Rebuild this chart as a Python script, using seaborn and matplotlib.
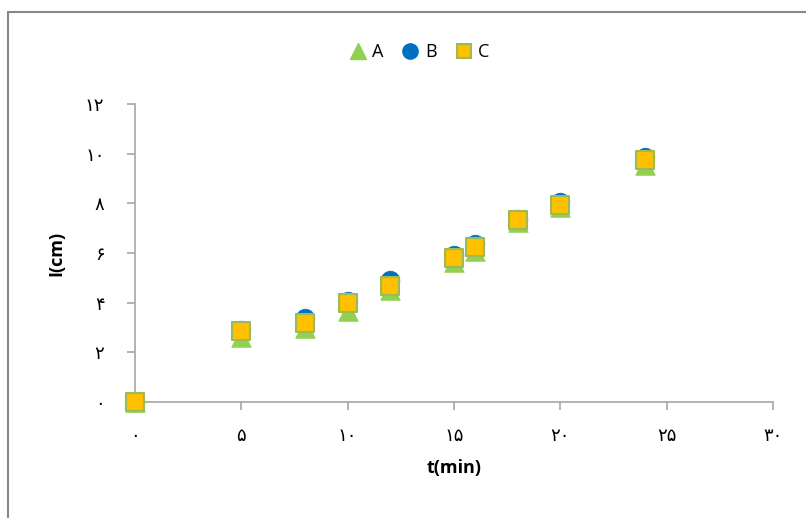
import matplotlib
matplotlib.use("Agg")
import matplotlib.pyplot as plt
import seaborn as sns
import pandas as pd
from matplotlib.lines import Line2D

t = [0, 5, 8, 10, 12, 15, 16, 18, 20, 24]
A = [0, 2.6, 3.0, 3.67, 4.5, 5.65, 6.1, 7.25, 7.85, 9.55]
B = [0, 2.9, 3.4, 4.07, 4.9, 5.9, 6.35, 7.35, 8.05, 9.88]
C = [0, 2.86, 3.19, 3.98, 4.68, 5.8, 6.23, 7.34, 7.94, 9.74]

xticks = [0, 5, 10, 15, 20, 25, 30]
xticklabels = ["۰", "۵", "۱۰", "۱۵", "۲۰", "۲۵", "۳۰"]
yticks = [0, 2, 4, 6, 8, 10, 12]
yticklabels = ["۰", "۲", "۴", "۶", "۸", "۱۰", "۱۲"]

sns.set_style("white")
plt.rcParams['font.family'] = ['DejaVu Sans']
plt.rcParams['text.color'] = 'black'
plt.rcParams['axes.labelcolor'] = 'black'

W, H = 806, 518
fig = plt.figure(figsize=(W / 100, H / 100), dpi=100)
ax = fig.add_axes([135 / W, 1 - 402 / H, (773 - 135) / W, (402 - 104) / H])

grey = "#a6a6a6"
ms = 200
sns.scatterplot(x=t, y=A, ax=ax, marker="^", s=ms * 1.0, color="#92D050",
                edgecolor="#92D050", linewidth=0.5, zorder=3, clip_on=False)
sns.scatterplot(x=t, y=B, ax=ax, marker="o", s=ms * 0.9, color="#0070C0",
                edgecolor="#0070C0", linewidth=0.5, zorder=4, clip_on=False)
sns.scatterplot(x=t, y=C, ax=ax, marker="s", s=ms * 0.85, color="#FFC000",
                edgecolor="#9BBB59", linewidth=1.5, zorder=5, clip_on=False)

ax.set_xlim(0, 30)
ax.set_ylim(0, 12)
ax.set_xticks(xticks)
ax.set_xticklabels(xticklabels, fontsize=13)
ax.set_yticks(yticks)
ax.set_yticklabels(yticklabels, fontsize=13)
for s in ["top", "right"]:
    ax.spines[s].set_visible(False)
for s in ["left", "bottom"]:
    ax.spines[s].set_color(grey)
    ax.spines[s].set_linewidth(1.2)
ax.tick_params(axis="both", direction="out", length=6, width=1.2, color=grey,
               labelcolor="black")
ax.tick_params(axis="x", pad=12, bottom=True)
ax.tick_params(axis="y", pad=16, left=True)

ax.set_xlabel("t(min)", fontsize=13, fontweight="bold", family=["Open Sans", "DejaVu Sans"],
              labelpad=10, color="black")
ax.set_ylabel("I(cm)", fontsize=13, fontweight="bold", family=["Open Sans", "DejaVu Sans"],
              labelpad=14, color="black")

handles = [
    Line2D([], [], linestyle="none", marker="^", markersize=12, color="#92D050"),
    Line2D([], [], linestyle="none", marker="o", markersize=11, color="#0070C0"),
    Line2D([], [], linestyle="none", marker="s", markersize=10, markerfacecolor="#FFC000",
           markeredgecolor="#9BBB59", markeredgewidth=1.5),
]
leg = fig.legend(handles, ["A", "B", "C"], loc="center", bbox_to_anchor=(419 / W, 1 - 52 / H),
                 ncol=3, frameon=False, handletextpad=0.3, columnspacing=1.0,
                 handlelength=1.0,
                 prop={"family": ["Open Sans", "DejaVu Sans"], "size": 13})
for txt in leg.get_texts():
    txt.set_color("black")

fig.add_artist(Line2D([8 / W, 8 / W], [0, 1 - 12 / H], transform=fig.transFigure,
                      color="#888888", linewidth=1.5))
fig.add_artist(Line2D([8 / W, 1], [1 - 12 / H, 1 - 12 / H], transform=fig.transFigure,
                      color="#888888", linewidth=1.5))

fig.savefig("out.png", dpi=100)
